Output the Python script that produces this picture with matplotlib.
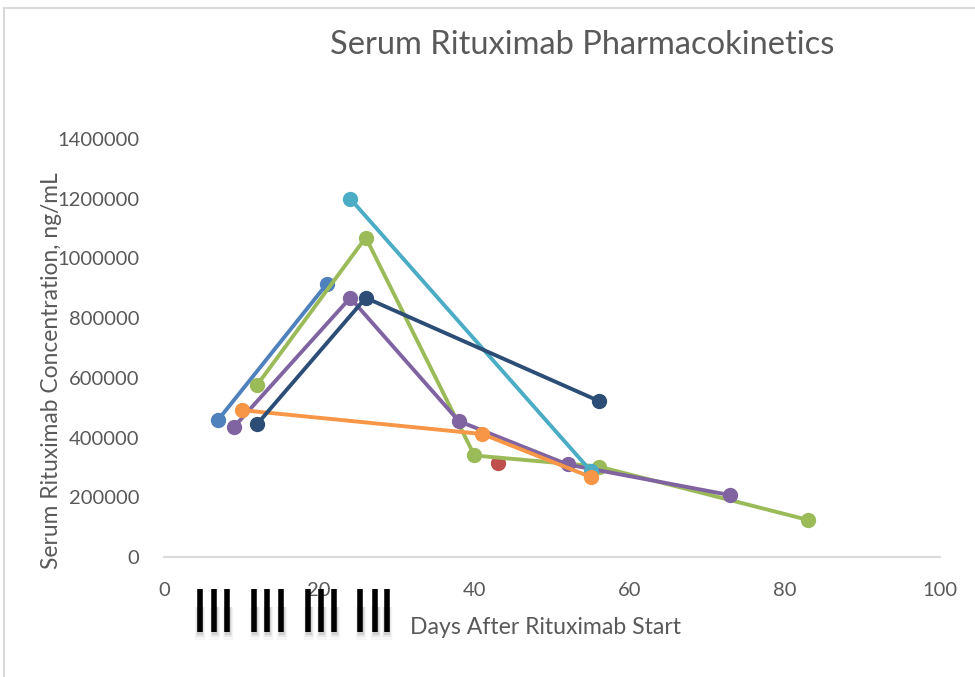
import numpy as np
import matplotlib
matplotlib.use("Agg")
from matplotlib import pyplot as plt
from matplotlib.lines import Line2D

plt.rcParams['font.family'] = ['Lato', 'DejaVu Sans']

# Data ----------------------------------------------------------------------------
days_blue = [7, 21]
conc_blue = [460000, 915000]

days_red = [43]
conc_red = [315000]

days_green = [12, 26, 40, 56, 83]
conc_green = [576000, 1070000, 340000, 303000, 124000]

days_purple = [9, 24, 38, 52, 73]
conc_purple = [435000, 868000, 455000, 310000, 207000]

days_cyan = [24, 55]
conc_cyan = [1200000, 288000]

days_orange = [10, 41, 55]
conc_orange = [492000, 412000, 268000]

days_navy = [12, 26, 56]
conc_navy = [445000, 868000, 523000]

# dosing marks drawn under the x axis (days)
dose_days = [4.6, 6.5, 8.1, 11.6, 13.3, 15.1, 18.6, 20.2, 21.9, 25.3, 27.2, 28.7]

series = [
    (days_blue, conc_blue, '#4F81BD'),
    (days_red, conc_red, '#C0504D'),
    (days_green, conc_green, '#9BBB59'),
    (days_purple, conc_purple, '#8064A2'),
    (days_cyan, conc_cyan, '#4BACC6'),
    (days_orange, conc_orange, '#F79646'),
    (days_navy, conc_navy, '#2C4D75'),
]
# ----------------------------------------------------------------------------------

fig = plt.figure(figsize=(9.75, 6.77), dpi=100)
ax = fig.add_axes([164/975, 1-557/677, 776/975, 418/677])

for x, y, c in series:
    ax.plot(x, y, color=c, lw=2.8, marker='o', ms=10, mec=c, mfc=c)

ax.set_xlim(0, 100)
ax.set_ylim(0, 1400000)
ax.set_xticks(np.arange(0, 101, 20))
ax.set_yticks(np.arange(0, 1400001, 200000))
ax.yaxis.set_major_formatter(matplotlib.ticker.FuncFormatter(lambda v, p: f"{int(v)}"))

for s in ['top', 'right', 'left']:
    ax.spines[s].set_visible(False)
ax.spines['bottom'].set_color('#D9D9D9')
ax.spines['bottom'].set_linewidth(1.5)
ax.tick_params(length=0, labelsize=14.5, colors='#595959')
ax.tick_params(axis='y', pad=18)
ax.tick_params(axis='x', pad=18)

fig.text(582/975, 1-45/677, "Serum Rituximab Pharmacokinetics", fontsize=23.5, color='#595959',
         ha='center', va='center')
ax.set_ylabel("Serum Rituximab Concentration, ng/mL", fontsize=16.4, color='#595959')
ax.yaxis.set_label_coords(-0.131, 0.447)
fig.text(546/975, 1-627/677, "Days After Rituximab Start", fontsize=16.6, color='#595959',
         ha='center', va='center')

# dosing bars with a soft shadow underneath
trans = ax.get_xaxis_transform()
for d in dose_days:
    for k, a in enumerate([0.10, 0.06, 0.03]):
        ax.plot([d + 0.1, d + 0.1], [-0.12, -0.186 - 0.006 * k], transform=trans, color='black',
                lw=4.5 + 1.5 * k, solid_capstyle='butt', clip_on=False, alpha=a)
    ax.plot([d, d], [-0.077, -0.179], transform=trans, color='black', lw=4,
            solid_capstyle='butt', clip_on=False)

# chart border
fig.add_artist(Line2D([4/975, 4/975], [0, 1-8/677], color='#D9D9D9', lw=1.5))
fig.add_artist(Line2D([4/975, 1], [1-8/677, 1-8/677], color='#D9D9D9', lw=1.5))

fig.savefig("out.png", dpi=100)
